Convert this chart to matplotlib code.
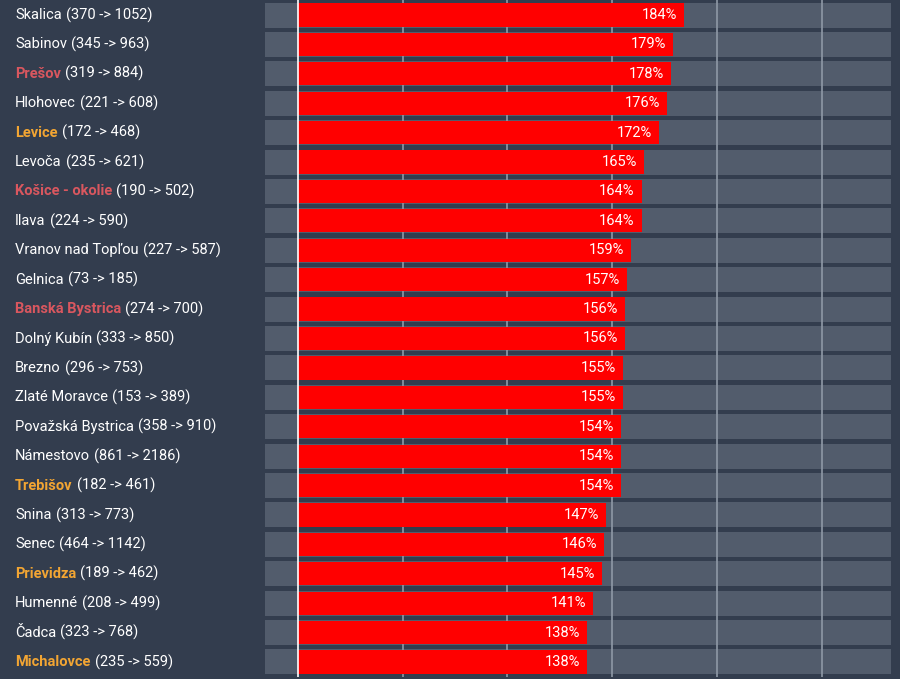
import matplotlib
matplotlib.use('Agg')
from matplotlib import pyplot as plt

# districts, counts (before -> after) and growth in percent
names = ['Skalica', 'Sabinov', 'Prešov', 'Hlohovec', 'Levice', 'Levoča',
         'Košice - okolie', 'Ilava', 'Vranov nad Topľou', 'Gelnica',
         'Banská Bystrica', 'Dolný Kubín', 'Brezno', 'Zlaté Moravce',
         'Považská Bystrica', 'Námestovo', 'Trebišov', 'Snina', 'Senec',
         'Prievidza', 'Humenné', 'Čadca', 'Michalovce']
before = [370, 345, 319, 221, 172, 235, 190, 224, 227, 73, 274, 333, 296, 153,
          358, 861, 182, 313, 464, 189, 208, 323, 235]
after = [1052, 963, 884, 608, 468, 621, 502, 590, 587, 185, 700, 850, 753, 389,
         910, 2186, 461, 773, 1142, 462, 499, 768, 559]
growth = [184, 179, 178, 176, 172, 165, 164, 164, 159, 157, 156, 156, 155, 155,
          154, 154, 154, 147, 146, 145, 141, 138, 138]
# highlight group of the name: '' plain, 'r' red, 'o' orange
highlight = ['', '', 'r', '', 'o', '', 'r', '', '', '', 'r', '', '', '', '',
             '', 'o', '', '', 'o', '', '', 'o']

BG = '#333d4e'
TRACK = '#525c6c'
GRID = '#8f99a6'
HL = {'': 'white', 'r': '#d9575f', 'o': '#f2a533'}
FONT = 'Roboto'

x_min, x_max = -15.8, 282.8

fig = plt.figure(figsize=(9, 6.79), dpi=100, facecolor=BG)
ax = fig.add_axes([264.5 / 900, 2.3 / 679, (891 - 264.5) / 900, (679 - 2.6) / 679])
ax.set_facecolor(BG)

rows = list(range(len(names)))
ax.barh(rows, [x_max - x_min] * len(rows), left=x_min, height=0.85,
        color=TRACK, zorder=1)
for g in [50, 100, 150, 200, 250]:
    ax.axvline(g, color=GRID, lw=1.2, zorder=2)
ax.barh(rows, growth, height=0.79, color='#ff0000', zorder=3)
ax.axvline(0, color='white', lw=1.2, zorder=4)

for i, v in enumerate(growth):
    ax.annotate('%d%%' % v, xy=(v, i), xytext=(-5, 0), textcoords='offset points',
                ha='right', va='center', color='white', fontsize=10.5, family=FONT,
                zorder=5)

ax.set_xlim(x_min, x_max)
ax.set_ylim(len(rows) - 0.5, -0.5)
ax.axis('off')

# labels on the left: highlighted name plus plain counts
for i in rows:
    y = ax.transData.transform((0, i))[1]
    y = fig.transFigure.inverted().transform((0, y))[1]
    bold = 'bold' if highlight[i] else 'normal'
    t = fig.text(15 / 900, y, names[i], color=HL[highlight[i]], fontsize=10.5,
                 family=FONT, weight=bold, va='center', ha='left')
    ax.annotate('(%d -> %d)' % (before[i], after[i]), xy=(1, 0.5), xycoords=t,
                xytext=(3, 0), textcoords='offset points',
                ha='left', va='center', color='white', fontsize=10.5, family=FONT)

plt.savefig('out.png', dpi=100, facecolor=BG)
